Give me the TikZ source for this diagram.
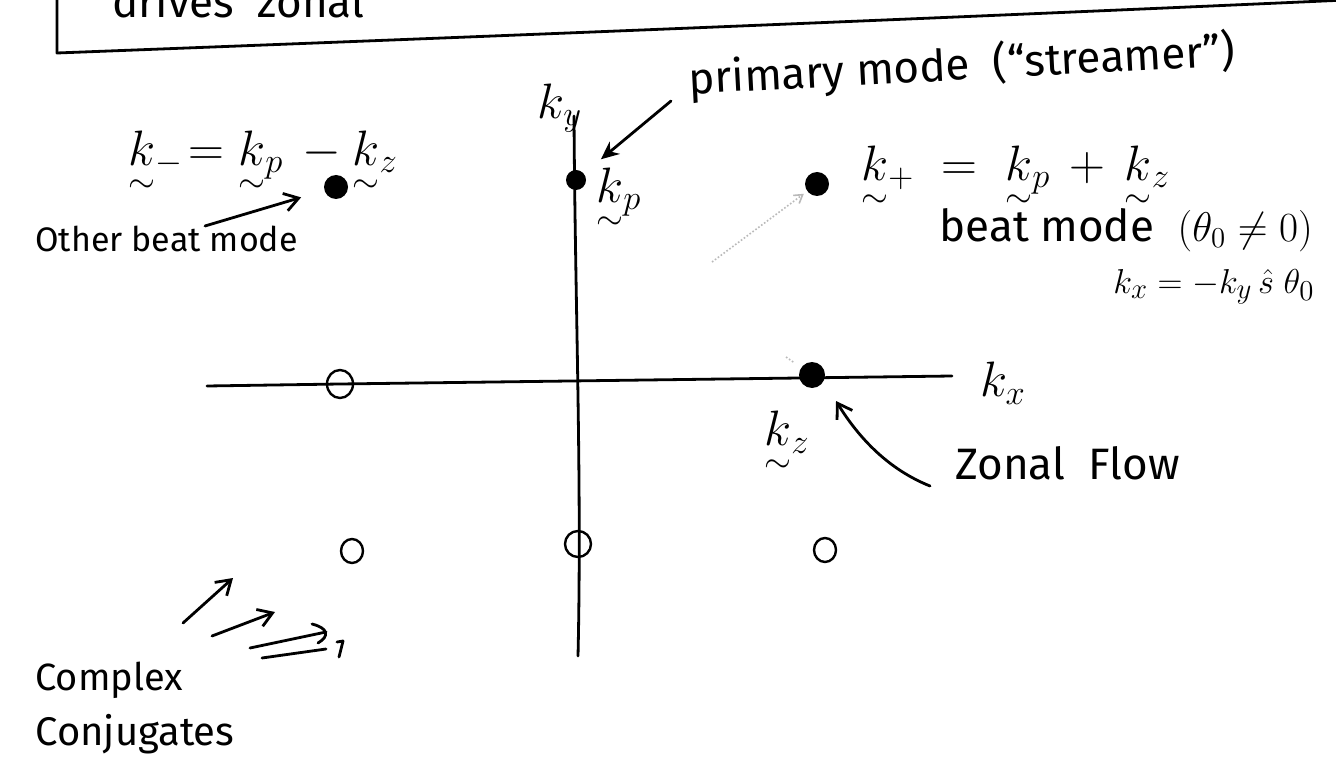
\documentclass[tikz,border=0pt]{standalone}
\usepackage{amsmath}
\usepackage{fontspec}
\setmainfont{Fira Sans}
\usetikzlibrary{arrows.meta,shapes.geometric}
\newcommand{\kv}{\mathord{\vphantom{k}\smash{\ooalign{$k$\cr\hidewidth\raisebox{-0.95ex}{$\scriptstyle\sim$}\hidewidth\cr}}}}
\begin{document}
\begin{tikzpicture}[x=0.5pt,y=-0.5pt,
  ink/.style={line width=1.4pt, line cap=round, line join=round},
  arr/.style={ink, -{Straight Barb[length=7pt,width=9pt,line width=1.4pt]}},
  fdot/.style={circle, fill=black, draw=none, inner sep=0pt, minimum size=#1},
  fdot/.default=11pt,
  odot/.style={ellipse, draw, line width=1.2pt, inner sep=0pt},
  faint/.style={gray!55, densely dotted, line width=0.8pt},
  lab/.style={inner sep=0pt, font=\fontsize{22}{26}\selectfont},
  mlab/.style={inner sep=0pt, font=\fontsize{27}{30}\selectfont},
  labs/.style={inner sep=0pt, font=\fontsize{17}{20}\selectfont}]
\useasboundingbox (0,0) rectangle (1336,780);
\fill[white] (0,0) rectangle (1336,780);

% top box (cut off)
\coordinate (boxTL) at (57,-10);
\coordinate (boxBL) at (57,53);
\coordinate (boxBR) at (1346,0);
\draw[ink] (boxTL) -- (boxBL) .. controls (500,36) and (900,20) .. (boxBR);
\node[lab, anchor=base west] (toptext) at (112,18) {drives\ \ zonal};

% axes
\coordinate (ytop) at (574,116);
\coordinate (ybot) at (578,656);
\draw[ink] (ytop) .. controls (575,300) and (582,480) .. (ybot);
\coordinate (xl) at (207,386);
\coordinate (xr) at (952,376);
\draw[ink] (xl) -- (340,384) -- (xr);
\node[mlab] (ky) at (560,108) {$k_y$};
\node[mlab] (kx) at (1003,383) {$k_x$};

% filled modes
\node[fdot=10pt] (kp) at (576,180) {};
\node[fdot=12pt] (km) at (336,187) {};
\node[fdot=12pt] (kpl) at (817,184) {};
\node[fdot=13pt] (kz) at (812,375) {};

% open circles (conjugates)
\node[odot, minimum width=13pt, minimum height=14pt] (o1) at (340,384) {};
\node[odot, minimum width=11pt, minimum height=12pt] (o2) at (352,551) {};
\node[odot, minimum width=13pt, minimum height=13pt] (o3) at (578,544) {};
\node[odot, minimum width=11pt, minimum height=12pt] (o4) at (825,550) {};

% labels
\node[mlab, anchor=west] (kmeq) at (128,155) {$\kv_-\!=\kv_p\,-\kv_z$};
\node[mlab, anchor=west] (kplab) at (596,192) {$\kv_p$};
\node[mlab, anchor=west] (kpleq) at (861,170) {$\kv_+ \;=\; \kv_p \,+\, \kv_z$};
\node[lab, anchor=west] (beat) at (939,230) {beat mode\ \ $(\theta_0 \neq 0)$};
\node[labs, anchor=west, font=\fontsize{19}{22}\selectfont] (kxeq) at (1113,287) {$k_x = -k_y\,\hat{s}\;\theta_0$};
\node[labs, anchor=base west] (other) at (35,252) {Other beat mode};
\node[lab, rotate=3] (prim) at (962,66) {primary mode\ \ (“streamer”)};
\node[mlab] (kzlab) at (787,432) {$\kv_z$};
\node[lab, anchor=base west] (zonal) at (955,479) {Zonal\ \ Flow};
\node[lab, anchor=base west, font=\fontsize{19}{22}\selectfont] (cplx) at (35,690) {Complex};
\node[lab, anchor=base west, font=\fontsize{20}{22}\selectfont] (conj) at (35,745) {Conjugates};

% arrows
\coordinate (primA) at (671,101);
\draw[ink, -{Stealth[length=9pt,width=8pt]}, shorten >=11pt] (primA) -- (kp);
\coordinate (otherA) at (205,226);
\draw[arr, shorten >=12pt] (otherA) -- (km);
\coordinate (dotA) at (712,262);
\draw[faint, -{Straight Barb[length=4pt,width=5pt]}, shorten >=2pt] (dotA) -- (kpl);
\coordinate (hairA) at (786,357);
\draw[faint, shorten >=4pt] (hairA) -- (kz);
\coordinate (zfA) at (930,486);
\draw[arr] (zfA) .. controls (890,470) and (860,440) .. (836,401);

% complex conjugate arrows
\coordinate (c1a) at (183,623); \coordinate (c1b) at (233,578);
\draw[arr] (c1a) -- (c1b);
\coordinate (c2a) at (212,636); \coordinate (c2b) at (275,612);
\draw[arr] (c2a) -- (c2b);
\coordinate (c3a) at (250,648); \coordinate (c3b) at (326,632);
\coordinate (c4a) at (262,658); \coordinate (c4b) at (326,649);
\draw[ink] (c3a) -- (c3b);
\draw[ink] (c4a) -- (c4b);
\draw[ink] (312,624) .. controls (328,628) and (330,636) .. (318,643);
\coordinate (c5a) at (337,642); \coordinate (c5b) at (339,657);
\draw[ink] (c5a) -- (343,641) -- (c5b);
\end{tikzpicture}
\end{document}
